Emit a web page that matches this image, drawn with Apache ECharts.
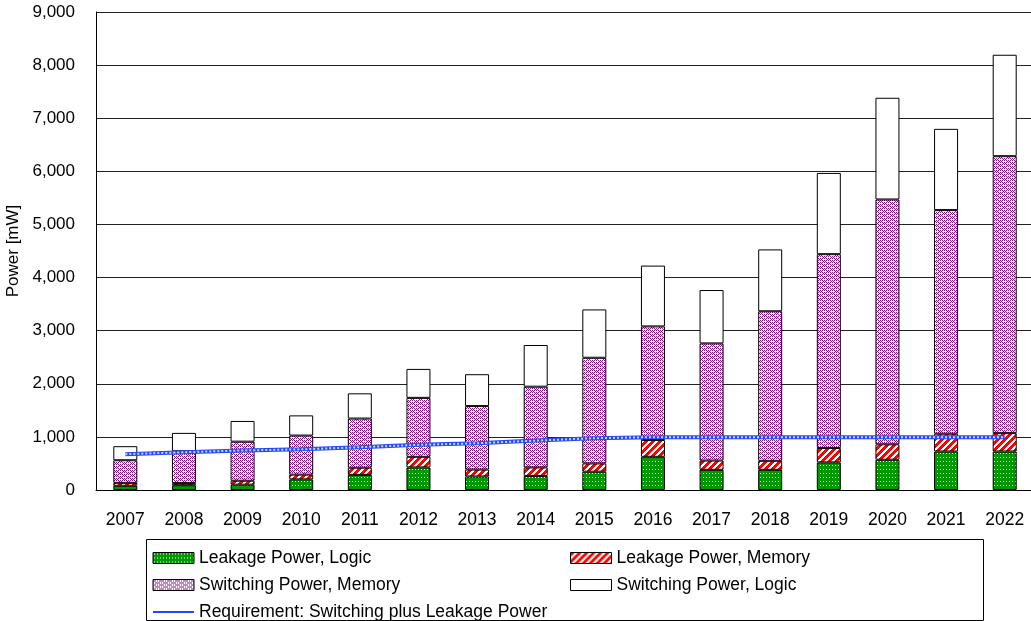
<!DOCTYPE html>
<html>
<head>
<meta charset="utf-8">
<script src="https://cdn.jsdelivr.net/npm/echarts@6/dist/echarts.min.js"></script>
<style>
  html, body { margin: 0; padding: 0; background: #fff; }
  #chart { width: 1031px; height: 621px; }
</style>
</head>
<body>
<div id="chart"></div>
<script>
const years = ['2007', '2008', '2009', '2010', '2011', '2012', '2013', '2014',
  '2015', '2016', '2017', '2018', '2019', '2020', '2021', '2022'];
const leakageLogic = [80, 90, 100, 200, 285, 425, 255, 265, 345, 625, 380, 380, 520, 570, 725, 725];
const leakageMemory = [55, 40, 75, 90, 135, 200, 130, 160, 155, 315, 175, 170, 270, 290, 335, 345];
const switchingMemory = [425, 600, 735, 735, 925, 1110, 1195, 1520, 1990, 2140, 2205, 2815, 3650, 4610, 4210, 5215];
const switchingLogic = [265, 345, 390, 380, 475, 545, 600, 785, 910, 1145, 1005, 1165, 1530, 1915, 1530, 1910];
const requirement = [675, 710, 745, 765, 805, 850, 880, 930, 975, 995, 995, 995, 995, 995, 995, 995];

const font = '"Liberation Sans", Arial, sans-serif';

// small pixel patterns to mimic the hatched fills
const makePattern = (w, h, bg, fg, test) => {
  const c = document.createElement('canvas');
  c.width = w;
  c.height = h;
  const ctx = c.getContext('2d');
  ctx.fillStyle = bg;
  ctx.fillRect(0, 0, w, h);
  ctx.fillStyle = fg;
  for (let y = 0; y < h; y++) {
    for (let x = 0; x < w; x++) {
      if (test(x, y)) ctx.fillRect(x, y, 1, 1);
    }
  }
  return { image: c, repeat: 'repeat' };
};

const greenDots = makePattern(3, 4, '#009900', '#ffffff', (x, y) => x === 1 && y === 1);
const redStripes = makePattern(7, 7, '#ffffff', '#ff0000', (x, y) => (x + y) % 7 < 4);
const purpleZig = makePattern(8, 4, '#ffffff', '#8b128b', (x, y) => {
  const k = (y + Math.abs(x - 4)) % 4;
  return k === 0 || (k === 2 && x % 2 === 0);
});

const chart = echarts.init(document.getElementById('chart'), null, { renderer: 'canvas' });

const barStyle = (fill) => ({ color: fill, borderColor: '#000', borderWidth: 1 });
const legendText = { fontSize: 17.5, lineHeight: 18, color: '#000', fontFamily: font };
const boxItem = (name) => ({ name: name, icon: 'rect' });

const option = {
  animation: false,
  backgroundColor: '#fff',
  textStyle: { fontFamily: font, color: '#000' },
  grid: { left: 96, width: 938, top: 12, bottom: 131, outerBoundsMode: 'none' },
  xAxis: {
    type: 'category',
    data: years,
    axisLine: { lineStyle: { color: '#000', width: 1 } },
    axisTick: { inside: true, length: 5, lineStyle: { color: '#666' } },
    axisLabel: { color: '#000', fontSize: 17.5, margin: 21, fontFamily: font }
  },
  yAxis: {
    type: 'value',
    min: 0,
    max: 9000,
    interval: 1000,
    name: 'Power [mW]',
    nameLocation: 'middle',
    nameGap: 63,
    nameTextStyle: { color: '#000', fontSize: 17, fontFamily: font },
    axisLine: { show: true, lineStyle: { color: '#000', width: 1 } },
    axisTick: { show: false },
    axisLabel: {
      color: '#000', fontSize: 17, margin: 21, fontFamily: font,
      formatter: (v) => v.toLocaleString('en-US')
    },
    splitLine: { lineStyle: { color: '#222', width: 1 } }
  },
  legend: [
    {
      orient: 'vertical', left: 152, top: 549, padding: 0,
      itemWidth: 41, itemHeight: 11, itemGap: 9,
      itemStyle: { borderWidth: 1 },
      textStyle: legendText,
      data: [
        boxItem('Leakage Power, Logic'),
        boxItem('Switching Power, Memory'),
        { name: 'Requirement: Switching plus Leakage Power', itemStyle: { opacity: 0 } }
      ]
    },
    {
      orient: 'vertical', left: 570, top: 549, padding: 0,
      itemWidth: 41, itemHeight: 11, itemGap: 9,
      itemStyle: { borderWidth: 1 },
      textStyle: legendText,
      data: [boxItem('Leakage Power, Memory'), boxItem('Switching Power, Logic')]
    }
  ],
  graphic: [
    {
      type: 'rect',
      shape: { x: 146.5, y: 539.5, width: 837, height: 81 },
      style: { fill: 'none', stroke: '#000', lineWidth: 1 },
      z: -1
    }
  ],
  series: [
    { name: 'Leakage Power, Logic', type: 'bar', stack: 'p', barWidth: 24, data: leakageLogic, itemStyle: barStyle(greenDots) },
    { name: 'Leakage Power, Memory', type: 'bar', stack: 'p', barWidth: 24, data: leakageMemory, itemStyle: barStyle(redStripes) },
    { name: 'Switching Power, Memory', type: 'bar', stack: 'p', barWidth: 24, data: switchingMemory, itemStyle: barStyle(purpleZig) },
    { name: 'Switching Power, Logic', type: 'bar', stack: 'p', barWidth: 24, data: switchingLogic, itemStyle: barStyle('#ffffff') },
    {
      name: 'Requirement: Switching plus Leakage Power', type: 'line', data: requirement,
      symbol: 'none', z: 5,
      itemStyle: { color: '#2347ff' },
      lineStyle: { color: '#2347ff', width: 4 }
    },
    {
      name: 'req-dots', type: 'line', data: requirement,
      symbol: 'none', z: 6, silent: true,
      lineStyle: { color: '#c8d6ff', width: 2, type: [2, 2] }
    }
  ]
};

chart.setOption(option);
</script>
</body>
</html>
